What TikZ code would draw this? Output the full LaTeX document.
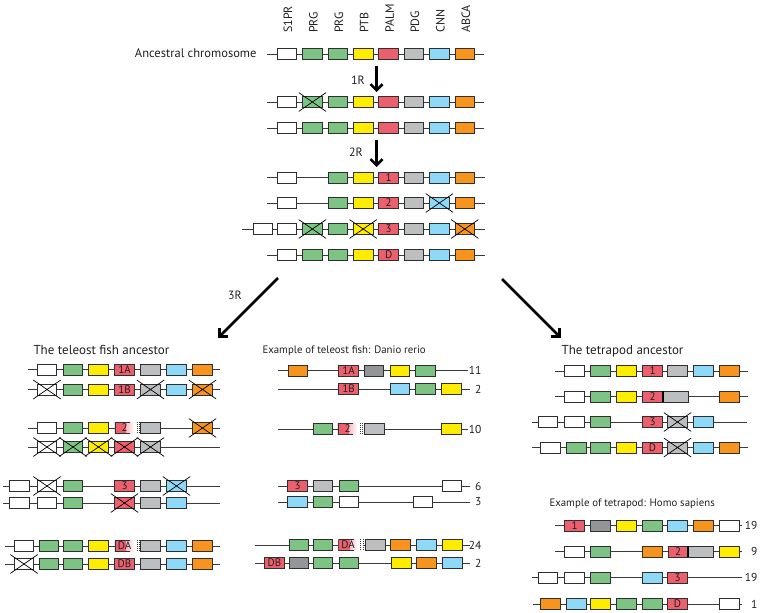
\documentclass[tikz,border=0pt]{standalone}
\usepackage{fontspec}
\setmainfont{PT Sans}
\usetikzlibrary{arrows.meta}

\definecolor{cW}{HTML}{FFFFFF}
\definecolor{cG}{HTML}{7DC383}
\definecolor{cY}{HTML}{FFED00}
\definecolor{cR}{HTML}{EC5F6D}
\definecolor{cS}{HTML}{BCBEC0}
\definecolor{cD}{HTML}{939598}
\definecolor{cB}{HTML}{8ED8F8}
\definecolor{cO}{HTML}{F7941D}
\definecolor{cEdge}{HTML}{2F2F2F}
\definecolor{cLine}{HTML}{3A3A3A}
\definecolor{cText}{HTML}{231F20}

\begin{document}
\begin{tikzpicture}[x=1pt,y=-1pt,
  gene/.style={draw=cEdge,line width=0.8pt,minimum width=19.5pt,minimum height=11pt,
    inner sep=0pt,text=cText,font=\fontsize{11}{11}\selectfont},
  gw/.style={gene,fill=cW}, gg/.style={gene,fill=cG}, gy/.style={gene,fill=cY},
  gr/.style={gene,fill=cR}, gs/.style={gene,fill=cS}, gd/.style={gene,fill=cD},
  gb/.style={gene,fill=cB}, go/.style={gene,fill=cO},
  wide/.style={minimum width=25pt,anchor=west},
  cutgene/.style={gene,draw=none,fill=cR,path picture={
    \fill[left color=cR,right color=white] ([xshift=-8pt]path picture bounding box.north east)
      rectangle (path picture bounding box.south east);
    \draw[cEdge,line width=1.6pt] ([xshift=-4pt]path picture bounding box.north east)
      -- (path picture bounding box.north west) -- (path picture bounding box.south west)
      -- ([xshift=-4pt]path picture bounding box.south east);}},
  chrom/.style={draw=cLine,line width=0.9pt},
  xline/.style={draw=black,line width=0.7pt},
  dup/.style={line width=2.6pt,-{Straight Barb[length=6pt,width=12pt]}},
  glabel/.style={rotate=90,anchor=west,inner sep=0pt,text=cText,font=\fontsize{12}{12}\selectfont},
  title/.style={anchor=west,text=cText,font=\fontsize{13}{13}\selectfont},
  small/.style={anchor=west,text=cText,font=\fontsize{10.8}{10.8}\selectfont},
  count/.style={anchor=east,text=cText,font=\fontsize{11.5}{11.5}\selectfont}]

  \useasboundingbox (0,0) rectangle (764,613);

  \def\lost#1{\draw[xline] ([shift={(-3.5pt,3.5pt)}]#1.north west) -- ([shift={(3.5pt,-3.5pt)}]#1.south east)
    ([shift={(-3.5pt,-3.5pt)}]#1.south west) -- ([shift={(3.5pt,3.5pt)}]#1.north east);}
  \def\gap#1{\fill[white] (#1.north east) rectangle ([xshift=6pt]#1.south east);
    \draw[cLine,line width=0.7pt,dash pattern=on 1pt off 1pt]
      ([xshift=2.5pt]#1.north east) -- ([xshift=2.5pt]#1.south east)
      ([xshift=5pt]#1.north east) -- ([xshift=5pt]#1.south east);}

  % gene names
  \node[glabel] (n1) at (288,33) {S1PR};
  \node[glabel] (n2) at (313.4,33) {PRG};
  \node[glabel] (n3) at (338.8,33) {PRG};
  \node[glabel] (n4) at (364.2,33) {PTB};
  \node[glabel] (n5) at (389.6,33) {PALM};
  \node[glabel] (n6) at (415,33) {PDG};
  \node[glabel] (n7) at (440.4,33) {CNN};
  \node[glabel] (n8) at (465.8,33) {ABCA};

  % ancestral chromosome
  \node[anchor=east,text=cText,font=\fontsize{12.5}{12.5}\selectfont] (anc) at (260,53) {Ancestral chromosome};
  \draw[chrom] (267,54) -- (484,54);
  \node[gw] (a1) at (287,54) {};
  \node[gg] (a2) at (312.4,54) {};
  \node[gg] (a3) at (337.8,54) {};
  \node[gy] (a4) at (363.2,54) {};
  \node[gr] (a5) at (388.6,54) {};
  \node[gs] (a6) at (414,54) {};
  \node[gb] (a7) at (439.4,54) {};
  \node[go] (a8) at (464.8,54) {};

  % 1R
  \coordinate (r1top) at (376.5,66);
  \coordinate (r1end) at (376.5,92);
  \draw[dup] (r1top) -- (r1end);
  \node[text=cText,font=\fontsize{12}{12}\selectfont] (r1) at (358,80) {1R};

  \draw[chrom] (267,102) -- (484,102);
  \node[gw] (p1) at (287,102) {};
  \node[gg] (p2) at (312.4,102) {};
  \node[gg] (p3) at (337.8,102) {};
  \node[gy] (p4) at (363.2,102) {};
  \node[gr] (p5) at (388.6,102) {};
  \node[gs] (p6) at (414,102) {};
  \node[gb] (p7) at (439.4,102) {};
  \node[go] (p8) at (464.8,102) {};
  \lost{p2}

  \draw[chrom] (267,128) -- (484,128);
  \node[gw] (q1) at (287,128) {};
  \node[gg] (q2) at (312.4,128) {};
  \node[gg] (q3) at (337.8,128) {};
  \node[gy] (q4) at (363.2,128) {};
  \node[gr] (q5) at (388.6,128) {};
  \node[gs] (q6) at (414,128) {};
  \node[gb] (q7) at (439.4,128) {};
  \node[go] (q8) at (464.8,128) {};

  % 2R
  \coordinate (r2top) at (376.5,140);
  \coordinate (r2end) at (376.5,167);
  \draw[dup] (r2top) -- (r2end);
  \node[text=cText,font=\fontsize{12}{12}\selectfont] (r2) at (356,152) {2R};

  \draw[chrom] (267,177.5) -- (485,177.5);
  \node[gw] (s1) at (287,177.5) {};
  \node[gg] (s3) at (337.8,177.5) {};
  \node[gy] (s4) at (363.2,177.5) {};
  \node[gr] (s5) at (388.6,177.5) {1};
  \node[gs] (s6) at (414,177.5) {};
  \node[gb] (s7) at (439.4,177.5) {};
  \node[go] (s8) at (464.8,177.5) {};

  \draw[chrom] (267,203) -- (485,203);
  \node[gw] (t1) at (287,203) {};
  \node[gg] (t3) at (337.8,203) {};
  \node[gy] (t4) at (363.2,203) {};
  \node[gr] (t5) at (388.6,203) {2};
  \node[gs] (t6) at (414,203) {};
  \node[gb] (t7) at (439.4,203) {};
  \node[go] (t8) at (464.8,203) {};
  \lost{t7}

  \draw[chrom] (242,229) -- (485,229);
  \node[gw] (u0) at (263,229) {};
  \node[gw] (u1) at (287,229) {};
  \node[gg] (u2) at (312.4,229) {};
  \node[gg] (u3) at (337.8,229) {};
  \node[gy] (u4) at (363.2,229) {};
  \node[gr] (u5) at (388.6,229) {3};
  \node[gs] (u6) at (414,229) {};
  \node[gb] (u7) at (439.4,229) {};
  \node[go] (u8) at (464.8,229) {};
  \lost{u2} \lost{u4} \lost{u8}

  \draw[chrom] (267,255) -- (485,255);
  \node[gw] (v1) at (287,255) {};
  \node[gg] (v2) at (312.4,255) {};
  \node[gg] (v3) at (337.8,255) {};
  \node[gy] (v4) at (363.2,255) {};
  \node[gr] (v5) at (388.6,255) {D};
  \node[gs] (v6) at (414,255) {};
  \node[gb] (v7) at (439.4,255) {};
  \node[go] (v8) at (464.8,255) {};

  % 3R
  \coordinate (fishtop) at (278,278);
  \coordinate (fishend) at (218,338);
  \coordinate (tetratop) at (502,279);
  \coordinate (tetraend) at (561,338);
  \draw[dup] (fishtop) -- (fishend);
  \draw[dup] (tetratop) -- (tetraend);
  \node[text=cText,font=\fontsize{12}{12}\selectfont] (r3) at (235,295) {3R};

  % teleost fish ancestor
  \node[title] (fish) at (30,350) {The teleost fish ancestor};

  \draw[chrom] (28,369.5) -- (220,369.5);
  \node[gw] (la1) at (47,369.5) {};
  \node[gg] (la2) at (73,369.5) {};
  \node[gy] (la3) at (98.5,369.5) {};
  \node[gr] (la4) at (124.5,369.5) {1A};
  \node[gs] (la5) at (150.5,369.5) {};
  \node[gb] (la6) at (176.5,369.5) {};
  \node[go] (la7) at (202.5,369.5) {};

  \draw[chrom] (28,389.5) -- (220,389.5);
  \node[gw] (lb1) at (47,389.5) {};
  \node[gg] (lb2) at (73,389.5) {};
  \node[gy] (lb3) at (98.5,389.5) {};
  \node[gr] (lb4) at (124.5,389.5) {1B};
  \node[gs] (lb5) at (150.5,389.5) {};
  \node[gb] (lb6) at (176.5,389.5) {};
  \node[go] (lb7) at (202.5,389.5) {};
  \lost{lb1} \lost{lb5} \lost{lb7}

  \draw[chrom] (28,428) -- (220,428);
  \node[gw] (lc1) at (47,428) {};
  \node[gg] (lc2) at (73,428) {};
  \node[gy] (lc3) at (98.5,428) {};
  \node[cutgene] (lc4) at (124.5,428) {2};
  \gap{lc4}
  \node[gs] (lc5) at (150.5,428) {};
  \node[go] (lc7) at (202.5,428) {};
  \lost{lc7}

  \draw[chrom] (28,447) -- (220,447);
  \node[gw] (ld1) at (47,447) {};
  \node[gg] (ld2) at (73,447) {};
  \node[gy] (ld3) at (98.5,447) {};
  \node[gr] (ld4) at (124.5,447) {};
  \node[gs] (ld5) at (150.5,447) {};
  \lost{ld1} \lost{ld2} \lost{ld3} \lost{ld4} \lost{ld5}

  \draw[chrom] (3,486) -- (220,486);
  \node[gw] (le0) at (19.5,486) {};
  \node[gw] (le1) at (47,486) {};
  \node[gg] (le2) at (73,486) {};
  \node[gr] (le4) at (124.5,486) {3};
  \node[gs] (le5) at (150.5,486) {};
  \node[gb] (le6) at (176.5,486) {};
  \lost{le1} \lost{le6}

  \draw[chrom] (3,503) -- (220,503);
  \node[gw] (lf0) at (19.5,503) {};
  \node[gw] (lf1) at (47,503) {};
  \node[gg] (lf2) at (73,503) {};
  \node[gr] (lf4) at (124.5,503) {};
  \node[gs] (lf5) at (150.5,503) {};
  \node[gb] (lf6) at (176.5,503) {};
  \lost{lf4}

  \draw[chrom] (5,546) -- (220,546);
  \node[gw] (lg0) at (24,546) {};
  \node[gg] (lg1) at (49,546) {};
  \node[gg] (lg2) at (73,546) {};
  \node[gy] (lg3) at (98.5,546) {};
  \node[cutgene] (lg4) at (124.5,546) {DA};
  \gap{lg4}
  \node[gs] (lg5) at (150.5,546) {};
  \node[gb] (lg6) at (176.5,546) {};
  \node[go] (lg7) at (202.5,546) {};

  \draw[chrom] (5,564) -- (220,564);
  \node[gw] (lh0) at (24,564) {};
  \node[gg] (lh1) at (49,564) {};
  \node[gg] (lh2) at (73,564) {};
  \node[gy] (lh3) at (98.5,564) {};
  \node[gr] (lh4) at (124.5,564) {DB};
  \node[gs] (lh5) at (150.5,564) {};
  \node[gb] (lh6) at (176.5,564) {};
  \node[go] (lh7) at (202.5,564) {};
  \lost{lh0}

  % Danio rerio
  \node[small] (danio) at (259,351) {Example of teleost fish: Danio rerio};

  \draw[chrom] (278,370.5) -- (468,370.5);
  \node[go] (ma1) at (298,370.5) {};
  \node[gr] (ma2) at (348.5,370.5) {1A};
  \node[gd] (ma3) at (374,370.5) {};
  \node[gy] (ma4) at (400,370.5) {};
  \node[gg] (ma5) at (425.5,370.5) {};
  \node[count] (ca) at (485,370.5) {11};

  \draw[chrom] (278,389) -- (470,389);
  \node[gr] (mb1) at (348.5,389) {1B};
  \node[gb] (mb2) at (400,389) {};
  \node[gg] (mb3) at (425.5,389) {};
  \node[gy] (mb4) at (451.5,389) {};
  \node[count] (cb) at (485,389) {2};

  \draw[chrom] (278,429) -- (468,429);
  \node[gg] (mc1) at (323,429) {};
  \node[cutgene] (mc2) at (347.5,429) {2};
  \gap{mc2}
  \node[gs] (mc3) at (374.5,429) {};
  \node[gy] (mc4) at (451.5,429) {};
  \node[count] (cc) at (485,429) {10};

  \draw[chrom] (278,486) -- (470,486);
  \node[gr] (md1) at (297.5,486) {3};
  \node[gs] (md2) at (323,486) {};
  \node[gg] (md3) at (349,486) {};
  \node[gw] (md4) at (452,486) {};
  \node[count] (cd) at (485,486) {6};

  \draw[chrom] (278,502) -- (470,502);
  \node[gb] (me1) at (297.5,502) {};
  \node[gg] (me2) at (323,502) {};
  \node[gw] (me3) at (349,502) {};
  \node[gw] (me4) at (423,502) {};
  \node[count] (ce) at (485,502) {3};

  \draw[chrom] (255,545) -- (470,545);
  \node[gg] (mf1) at (299,545) {};
  \node[gg] (mf2) at (323,545) {};
  \node[cutgene] (mf3) at (348,545) {DA};
  \gap{mf3}
  \node[gs] (mf4) at (375.5,545) {};
  \node[go] (mf5) at (400.5,545) {};
  \node[gb] (mf6) at (426.5,545) {};
  \node[gy] (mf7) at (452.5,545) {};
  \node[count] (cf) at (485,545) {24};

  \draw[chrom] (255,563) -- (470,563);
  \node[gr] (mg1) at (274.5,563) {DB};
  \node[gd] (mg2) at (299,563) {};
  \node[gg] (mg3) at (323,563) {};
  \node[gg] (mg4) at (349,563) {};
  \node[gy] (mg5) at (401.5,563) {};
  \node[go] (mg6) at (426.5,563) {};
  \node[gb] (mg7) at (452.5,563) {};
  \node[count] (cg) at (485,563) {2};

  % tetrapod ancestor
  \node[title] (tetra) at (558,351) {The tetrapod ancestor};

  \draw[chrom] (555,371) -- (748,371);
  \node[gw] (na1) at (574.5,371) {};
  \node[gg] (na2) at (600.5,371) {};
  \node[gy] (na3) at (626.5,371) {};
  \node[gr] (na4) at (652.5,371) {1};
  \node[gs] (na5) at (677.5,371) {};
  \node[gb] (na6) at (703.5,371) {};
  \node[go] (na7) at (729.5,371) {};

  \draw[chrom] (555,396.5) -- (748,396.5);
  \node[gw] (nb1) at (574.5,396.5) {};
  \node[gg] (nb2) at (600.5,396.5) {};
  \node[gy] (nb3) at (626.5,396.5) {};
  \node[gr] (nb4) at (652.5,396.5) {2};
  \node[gs,wide] (nb5) at (nb4.east) {};
  \draw[line width=1.8pt] (nb4.north east) -- (nb4.south east);
  \node[go] (nb7) at (729.5,396.5) {};

  \draw[chrom] (532,422) -- (747,422);
  \node[gw] (nc0) at (548,422) {};
  \node[gw] (nc1) at (574.5,422) {};
  \node[gg] (nc2) at (600.5,422) {};
  \node[gr] (nc4) at (652.5,422) {3};
  \node[gs] (nc5) at (677.5,422) {};
  \node[gb] (nc6) at (703.5,422) {};
  \lost{nc5}

  \draw[chrom] (532,447.5) -- (748,447.5);
  \node[gw] (nd0) at (550.5,447.5) {};
  \node[gg] (nd1) at (576.5,447.5) {};
  \node[gg] (nd2) at (600.5,447.5) {};
  \node[gy] (nd3) at (626.5,447.5) {};
  \node[gr] (nd4) at (652.5,447.5) {D};
  \node[gs] (nd5) at (677.5,447.5) {};
  \node[gb] (nd6) at (703.5,447.5) {};
  \node[go] (nd7) at (729.5,447.5) {};
  \lost{nd5}

  % Homo sapiens
  \node[small] (homo) at (546,504) {Example of tetrapod: Homo sapiens};

  \draw[chrom] (555,525.5) -- (742,525.5);
  \node[gr] (ha1) at (574.5,525.5) {1};
  \node[gd] (ha2) at (600.5,525.5) {};
  \node[gy] (ha3) at (626.5,525.5) {};
  \node[gg] (ha4) at (652.5,525.5) {};
  \node[gb] (ha5) at (677.5,525.5) {};
  \node[go] (ha6) at (703.5,525.5) {};
  \node[gw] (ha7) at (729.5,525.5) {};
  \node[count] (ka) at (761,525.5) {19};

  \draw[chrom] (555,551.5) -- (742,551.5);
  \node[gw] (hb1) at (574.5,551.5) {};
  \node[gg] (hb2) at (600.5,551.5) {};
  \node[go] (hb3) at (652.5,551.5) {};
  \node[gr] (hb4) at (678,551.5) {2};
  \node[gs,wide] (hb5) at (hb4.east) {};
  \draw[line width=1.8pt] (hb4.north east) -- (hb4.south east);
  \node[gy] (hb6) at (729.5,551.5) {};
  \node[count] (kb) at (761,551.5) {9};

  \draw[chrom] (532,577.5) -- (742,577.5);
  \node[gw] (hc0) at (548,577.5) {};
  \node[gw] (hc1) at (574.5,577.5) {};
  \node[gg] (hc2) at (600.5,577.5) {};
  \node[gb] (hc3) at (652.5,577.5) {};
  \node[gr] (hc4) at (677.5,577.5) {3};
  \node[count] (kc) at (761,577.5) {19};

  \draw[chrom] (533,604) -- (742,604);
  \node[go] (hd0) at (550.5,604) {};
  \node[gb] (hd1) at (576.5,604) {};
  \node[gy] (hd2) at (600.5,604) {};
  \node[gg] (hd3) at (626.5,604) {};
  \node[gg] (hd4) at (652.5,604) {};
  \node[gr] (hd5) at (677.5,604) {D};
  \node[gw] (hd6) at (729.5,604) {};
  \node[count] (kd) at (761,604) {1};

\end{tikzpicture}
\end{document}
